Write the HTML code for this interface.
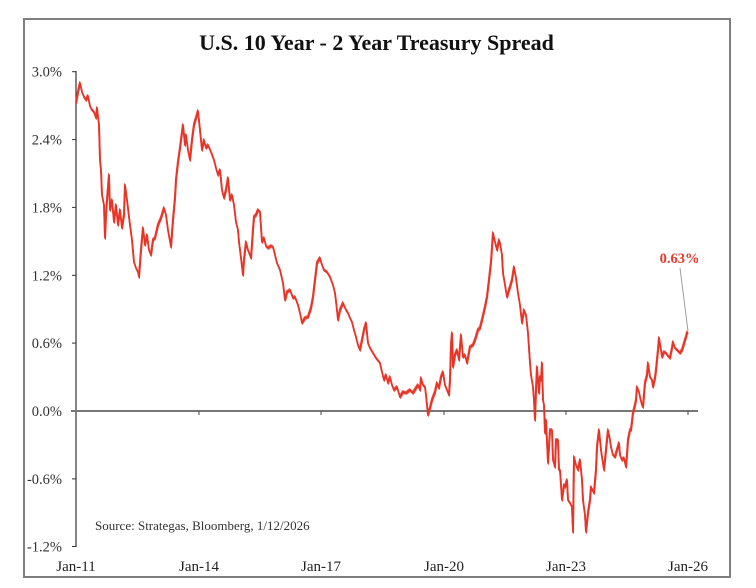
<!DOCTYPE html>
<html><head><meta charset="utf-8"><style>
html,body{margin:0;padding:0;background:#fff;}
svg{display:block;}
text{font-family:"Liberation Serif","DejaVu Serif",serif;}
</style></head><body>
<svg width="756" height="588" viewBox="0 0 756 588" xmlns="http://www.w3.org/2000/svg" xmlns:xlink="http://www.w3.org/1999/xlink">
<rect x="0" y="0" width="756" height="588" fill="#fff"/>
<rect x="24" y="19" width="706" height="558" fill="#fff" stroke="#7f7f7f" stroke-width="2"/>
<text x="376.5" y="50" font-size="22" font-weight="bold" text-anchor="middle" fill="#111">U.S. 10 Year - 2 Year Treasury Spread</text>
<g font-size="14.5" fill="#333" text-anchor="end">
<text x="62" y="76.5">3.0%</text>
<text x="62" y="144.5">2.4%</text>
<text x="62" y="212.5">1.8%</text>
<text x="62" y="280.5">1.2%</text>
<text x="62" y="348">0.6%</text>
<text x="62" y="416">0.0%</text>
<text x="62" y="484">-0.6%</text>
<text x="62" y="551.5">-1.2%</text>
</g>
<g font-size="15" fill="#222" text-anchor="middle">
<text x="76" y="571">Jan-11</text>
<text x="199" y="571">Jan-14</text>
<text x="321" y="571">Jan-17</text>
<text x="444" y="571">Jan-20</text>
<text x="566" y="571">Jan-23</text>
<text x="688" y="571">Jan-26</text>
</g>
<text x="95" y="530" font-size="13" fill="#333">Source: Strategas, Bloomberg, 1/12/2026</text>
<line x1="76" y1="71" x2="76" y2="547" stroke="#333" stroke-width="1.2"/>
<g stroke="#333" stroke-width="1">
<line x1="72" y1="71.7" x2="76" y2="71.7"/>
<line x1="72" y1="139.6" x2="76" y2="139.6"/>
<line x1="72" y1="207.4" x2="76" y2="207.4"/>
<line x1="72" y1="275.3" x2="76" y2="275.3"/>
<line x1="72" y1="343.1" x2="76" y2="343.1"/>
<line x1="72" y1="478.9" x2="76" y2="478.9"/>
<line x1="72" y1="546.5" x2="76" y2="546.5"/>
</g>
<line x1="71" y1="411" x2="698" y2="411" stroke="#777" stroke-width="2"/>
<g stroke="#444" stroke-width="1">
<line x1="199" y1="411" x2="199" y2="415"/>
<line x1="321" y1="411" x2="321" y2="415"/>
<line x1="444" y1="411" x2="444" y2="415"/>
<line x1="566" y1="411" x2="566" y2="415"/>
<line x1="688" y1="411" x2="688" y2="415"/>
</g>
<defs>
<polyline id="series" fill="none" stroke-linejoin="round" points="76,103 78,92 80,83 82,92 84,97 86,100 88,96 90,106 92,110 94,112 96,118 97,108 99,125 100,160 101,170 102,195 104,205 105,238 106,215 107,200 109,175 110,210 112,200 114,222 116,205 118,225 120,210 122,228 124,215 125,185 127,200 130,225 132,240 134,262 136,268 138,272 139,277 141,250 143,228 145,245 147,235 149,250 151,255 153,240 155,238 158,225 161,218 164,208 166,215 168,230 171,247 173,220 175,198 176,180 178,162 180,148 181,140 183,125 185,145 186,135 188,150 190,160 192,140 194,125 196,118 198,111 200,130 202,150 204,140 206,148 208,145 211,152 214,160 216,168 218,175 220,170 222,190 224,198 226,190 228,178 230,200 232,195 234,205 236,222 238,230 239,242 241,258 243,275 244,260 246,242 248,250 251,258 253,230 254,217 256,215 258,210 260,212 262,242 264,238 266,246 268,248 271,246 273,247 275,255 277,263 280,270 283,283 285,300 287,292 290,290 293,298 295,297 298,305 300,313 302,323 305,318 308,317 311,308 313,297 315,280 317,263 320,258 322,265 324,270 327,272 330,277 333,285 335,293 337,310 338,320 340,310 343,303 346,310 348,313 350,318 352,322 354,330 356,337 358,345 360,350 362,340 364,330 366,323 368,343 370,348 373,353 376,358 380,363 382,372 384,380 386,375 388,383 390,377 392,385 394,390 397,387 400,397 403,392 406,393 410,390 413,393 416,388 418,385 420,390 421,378 423,385 425,387 426,395 428,415 430,408 432,400 435,392 437,383 439,388 441,377 443,372 445,385 447,390 449,395 450,380 451,345 452,333 453,367 455,355 457,350 459,360 461,335 463,357 465,355 467,363 470,347 473,345 475,340 478,330 480,328 482,320 485,307 487,297 489,280 491,262 493,233 495,242 497,250 499,240 500,243 502,255 503,273 505,285 507,297 509,290 510,287 512,280 514,267 516,278 518,293 520,305 522,323 524,310 526,315 528,333 530,363 531,375 533,387 534,400 535,420 536,390 537,367 539,393 540,377 541,380 542,363 543,400 544,405 545,433 546,420 548,463 550,430 552,430 553,460 555,467 556,440 558,440 559,470 560,470 562,500 564,485 565,487 567,480 568,500 570,503 572,507 573,532 574,457 576,465 578,470 580,460 582,480 583,500 585,515 586,532 588,513 590,500 591,487 594,493 596,470 597,447 599,430 601,450 602,457 604,470 606,450 608,430 610,440 611,447 613,455 615,457 617,450 619,443 620,455 622,460 624,458 626,467 627,455 628,440 630,430 631,430 633,413 635,405 636,400 637,387 639,392 640,397 642,405 643,407 644,395 645,383 647,375 648,363 650,377 652,380 653,387 655,378 656,370 657,360 658,350 659,338 661,350 662,357 664,352 666,353 668,356 670,358 672,348 673,342 675,348 677,350 679,352 680,353 682,350 683,347 685,340 686,337 687,333 688,332"/>
</defs>
<use xlink:href="#series" href="#series" stroke="#e8473a" stroke-width="1.2" stroke-opacity="0.85" transform="translate(0.4,1.3)"/>
<use xlink:href="#series" href="#series" stroke="#e8473a" stroke-width="1.2" stroke-opacity="0.85" transform="translate(-0.4,-1.3)"/>
<use xlink:href="#series" href="#series" stroke="#e83427" stroke-width="1.8"/>
<line x1="680" y1="268" x2="688" y2="331" stroke="#a0a0a0" stroke-width="1"/>
<text x="679.5" y="263" font-size="14.5" font-weight="bold" text-anchor="middle" fill="#e8392b">0.63%</text>
</svg>
</body></html>
